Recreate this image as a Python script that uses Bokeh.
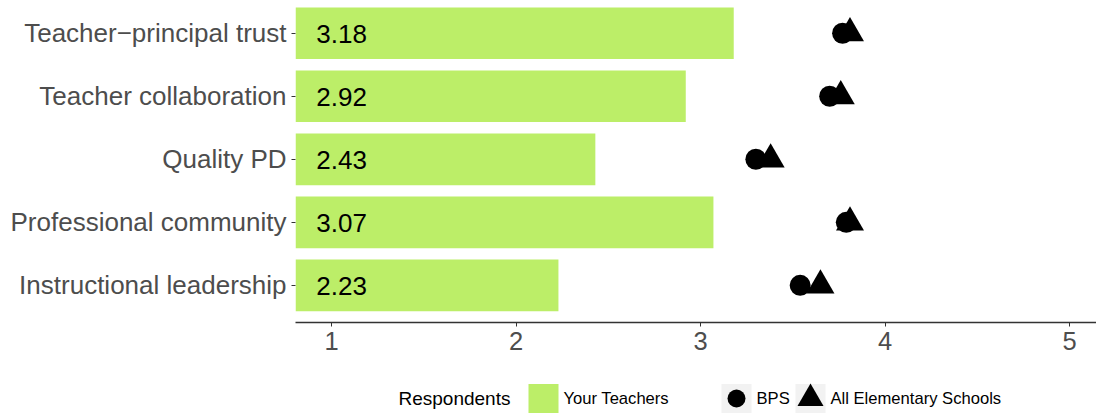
from bokeh.plotting import figure
from bokeh.models import Range1d, FixedTicker, ColumnDataSource
from bokeh.layouts import column
from bokeh.embed import file_html
from bokeh.resources import INLINE
from bokeh.core.properties import value

# ---- data ----
categories = ["Teacher\u2212principal trust", "Teacher collaboration", "Quality PD",
              "Professional community", "Instructional leadership"]
your_teachers = [3.18, 2.92, 2.43, 3.07, 2.23]
bps = [3.77, 3.70, 3.30, 3.79, 3.54]
all_elementary = [3.81, 3.76, 3.38, 3.81, 3.65]
x_ticks = [1, 2, 3, 4, 5]
legend_title = "Respondents"
legend_labels = ["Your Teachers", "BPS", "All Elementary Schools"]

FONT = "Liberation Sans"
BAR_COLOR = "#BCEE68"

n = len(categories)
ypos = [n - i for i in range(n)]  # top to bottom
labels = ["%.2f" % v for v in your_teachers]

src = ColumnDataSource(dict(y=ypos, val=your_teachers, bps=bps, allel=all_elementary,
                            lab=labels, lx=[1.055] * n))

W = 1096
H_MAIN = 360
H_LEG = 53
LEFT = 295

p = figure(width=W, height=H_MAIN, output_backend="svg", toolbar_location=None,
           x_range=Range1d(0.805, 5.146), y_range=Range1d(0.41, 5.52),
           min_border_left=LEFT, min_border_right=0, min_border_top=0, min_border_bottom=38)
p.outline_line_color = None
p.xgrid.visible = False
p.ygrid.visible = False
p.background_fill_color = "white"

p.hbar(y="y", left=0, right="val", height=0.82, source=src, fill_color=BAR_COLOR, line_color=None)
p.text(x="lx", y="y", text="lab", source=src, text_font=value(FONT), text_font_size="26px",
       text_align="center", text_baseline="middle", text_color="black", y_offset=1)
p.scatter(x="bps", y="y", source=src, marker="circle", size=21, fill_color="black", line_color=None)
p.scatter(x="allel", y="y", source=src, marker="triangle", size=28, fill_color="black", line_color=None)

# x axis
xa = p.xaxis[0]
xa.ticker = FixedTicker(ticks=x_ticks)
xa.major_label_overrides = {t: str(t) for t in x_ticks}
xa.axis_line_color = "#333333"
xa.axis_line_width = 1.3
xa.major_tick_line_color = "#333333"
xa.major_tick_out = 4
xa.major_tick_in = 0
xa.minor_tick_line_color = None
xa.major_label_standoff = 5
xa.major_label_text_font = FONT
xa.major_label_text_font_size = "25.5px"
xa.major_label_text_color = "#4D4D4D"

# y axis
ya = p.yaxis[0]
ya.ticker = FixedTicker(ticks=ypos)
ya.major_label_overrides = {y: c for y, c in zip(ypos, categories)}
ya.axis_line_color = None
ya.major_tick_line_color = "#333333"
ya.major_tick_out = 4
ya.major_tick_in = 0
ya.minor_tick_line_color = None
ya.major_label_standoff = 5
ya.major_label_text_font = FONT
ya.major_label_text_font_size = "26px"
ya.major_label_text_color = "#4D4D4D"

# ---- legend as its own strip (frame aligned with the main plot frame) ----
lg = figure(width=W, height=H_LEG, output_backend="svg", toolbar_location=None,
            x_range=Range1d(LEFT, W), y_range=Range1d(0, H_LEG),
            min_border_left=LEFT, min_border_right=0, min_border_top=0, min_border_bottom=0)
lg.axis.visible = False
lg.grid.visible = False
lg.outline_line_color = None

cy = 15
lg.text(x=[398], y=[cy], text=[legend_title], text_font=value(FONT), text_font_size="19px",
        text_baseline="middle", text_color="black")
lg.rect(x=[543], y=[cy], width=30, height=29, fill_color=BAR_COLOR, line_color=None)
lg.text(x=[563], y=[cy], text=[legend_labels[0]], text_font=value(FONT), text_font_size="16.6px",
        text_baseline="middle", text_color="black")
lg.rect(x=[736, 810], y=[cy, cy], width=30, height=29, fill_color="#F2F2F2", line_color=None)
lg.scatter(x=[736], y=[cy], marker="circle", size=18, fill_color="black", line_color=None)
lg.text(x=[756], y=[cy], text=[legend_labels[1]], text_font=value(FONT), text_font_size="16.6px",
        text_baseline="middle", text_color="black")
lg.scatter(x=[810], y=[cy], marker="triangle", size=26, fill_color="black", line_color=None)
lg.text(x=[830], y=[cy], text=[legend_labels[2]], text_font=value(FONT), text_font_size="16.6px",
        text_baseline="middle", text_color="black")

layout = column(p, lg, spacing=0)
open("out.html", "w").write(file_html(layout, INLINE))
